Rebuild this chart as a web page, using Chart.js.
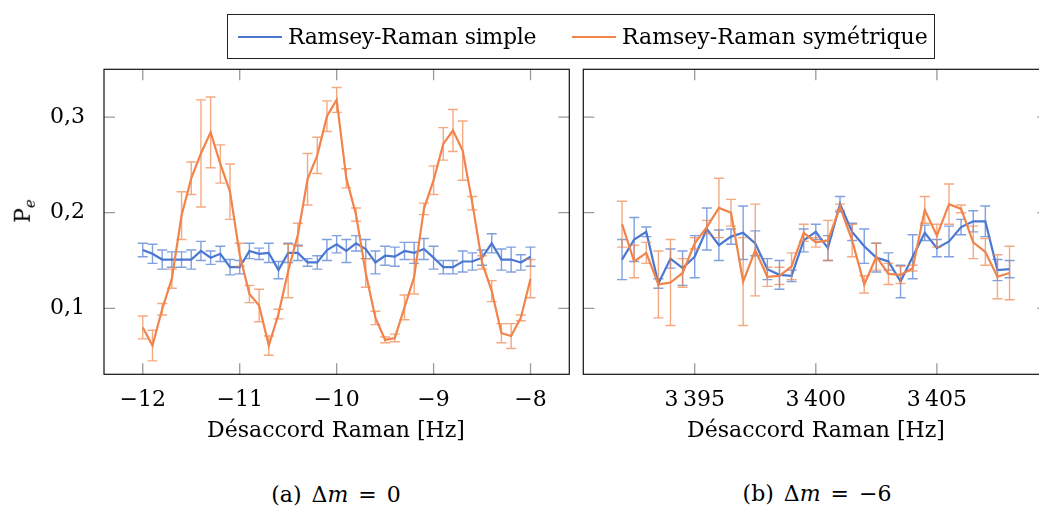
<!DOCTYPE html>
<html>
<head>
<meta charset="utf-8">
<script src="https://cdn.jsdelivr.net/npm/chart.js@4.4.1/dist/chart.umd.min.js"></script>
<style>
  html, body { margin: 0; padding: 0; background: #fff; }
  body { position: relative; width: 1039px; height: 507px; overflow: hidden; font-family: "DejaVu Serif"; color: #000; }
  canvas { position: absolute; top: 0; }
  #chartA { left: 0; }
  #chartB { left: 568px; }
  .txt { position: absolute; font-size: 22px; white-space: nowrap; line-height: 1; }
  .center { transform: translate(-50%, -50%); }
  .caption { word-spacing: 3px; }
  #legend { position: absolute; left: 227px; top: 14px; width: 706px; height: 43px; border: 1px solid #222; }
  .swatch { position: absolute; top: 21px; width: 44px; height: 2px; }
</style>
</head>
<body>
<canvas id="chartA" width="578" height="420"></canvas>
<canvas id="chartB" width="492" height="420"></canvas>

<div id="legend">
  <div class="swatch" style="left:10px; background:#4a77d2;"></div>
  <div class="txt" style="left:60px; top:11px; letter-spacing:-0.3px;">Ramsey-Raman simple</div>
  <div class="swatch" style="left:344px; background:#f0844a;"></div>
  <div class="txt" style="left:394px; top:11px;">Ramsey-Raman symétrique</div>
</div>

<div class="txt" style="left:25px; top:211px; transform: translate(-50%, -50%) rotate(-90deg);">P<sub style="font-style:italic; font-size:15px;">e</sub></div>

<div class="txt center" style="left:336px; top:430px;">Désaccord Raman [Hz]</div>
<div class="txt center" style="left:816px; top:430px;">Désaccord Raman [Hz]</div>

<div class="txt center caption" style="left:336px; top:495px;">(a) Δ<i>m</i> = 0</div>
<div class="txt center caption" style="left:817px; top:494px;">(b) Δ<i>m</i> = −6</div>

<script>
// (a) Δm = 0
const xA = [-12.0, -11.9, -11.8, -11.7, -11.6, -11.5, -11.4, -11.3, -11.2, -11.1,
            -11.0, -10.9, -10.8, -10.7, -10.6, -10.5, -10.4, -10.3, -10.2, -10.1,
            -10.0, -9.9, -9.8, -9.7, -9.6, -9.5, -9.4, -9.3, -9.2, -9.1,
            -9.0, -8.9, -8.8, -8.7, -8.6, -8.5, -8.4, -8.3, -8.2, -8.1, -8.0];
const simpleA = [0.161, 0.157, 0.151, 0.151, 0.151, 0.151, 0.160, 0.153, 0.157, 0.143,
                 0.143, 0.160, 0.157, 0.158, 0.140, 0.158, 0.158, 0.148, 0.148, 0.161,
                 0.167, 0.160, 0.168, 0.162, 0.148, 0.155, 0.154, 0.160, 0.158, 0.162,
                 0.153, 0.143, 0.143, 0.149, 0.149, 0.153, 0.168, 0.151, 0.151, 0.148, 0.154];
const simpleErrA = [0.007, 0.010, 0.010, 0.008, 0.008, 0.010, 0.010, 0.007, 0.008, 0.008,
                    0.007, 0.008, 0.006, 0.010, 0.009, 0.010, 0.008, 0.004, 0.007, 0.011,
                    0.009, 0.012, 0.008, 0.010, 0.012, 0.010, 0.010, 0.009, 0.011, 0.011,
                    0.012, 0.007, 0.007, 0.011, 0.009, 0.008, 0.010, 0.011, 0.013, 0.008, 0.010];
const symA = [0.080, 0.061, 0.099, 0.131, 0.197, 0.236, 0.262, 0.284, 0.251, 0.222,
              0.156, 0.115, 0.103, 0.061, 0.094, 0.139, 0.177, 0.235, 0.260, 0.301,
              0.318, 0.236, 0.198, 0.137, 0.090, 0.067, 0.069, 0.101, 0.133, 0.204,
              0.234, 0.272, 0.286, 0.265, 0.210, 0.148, 0.118, 0.074, 0.071, 0.090, 0.131];
const symErrA = [0.012, 0.016, 0.006, 0.010, 0.025, 0.017, 0.056, 0.037, 0.020, 0.029,
                 0.012, 0.009, 0.017, 0.010, 0.005, 0.028, 0.012, 0.027, 0.019, 0.016,
                 0.013, 0.010, 0.007, 0.015, 0.007, 0.003, 0.004, 0.013, 0.018, 0.006,
                 0.015, 0.017, 0.022, 0.031, 0.007, 0.007, 0.011, 0.010, 0.013, 0.003, 0.020];
const xTicksA = [-12, -11, -10, -9, -8];

// (b) Δm = -6
const xB = [3392.0, 3392.5, 3393.0, 3393.5, 3394.0, 3394.5, 3395.0, 3395.5, 3396.0, 3396.5,
            3397.0, 3397.5, 3398.0, 3398.5, 3399.0, 3399.5, 3400.0, 3400.5, 3401.0, 3401.5,
            3402.0, 3402.5, 3403.0, 3403.5, 3404.0, 3404.5, 3405.0, 3405.5, 3406.0, 3406.5,
            3407.0, 3407.5, 3408.0];
const simpleB = [0.151, 0.172, 0.180, 0.126, 0.152, 0.142, 0.154, 0.183, 0.166, 0.175,
                 0.179, 0.168, 0.141, 0.135, 0.134, 0.171, 0.180, 0.163, 0.209, 0.180,
                 0.165, 0.153, 0.149, 0.128, 0.154, 0.179, 0.163, 0.170, 0.185, 0.191,
                 0.191, 0.140, 0.141];
const simpleErrB = [0.021, 0.023, 0.005, 0.005, 0.010, 0.018, 0.022, 0.022, 0.016, 0.008,
                    0.028, 0.013, 0.011, 0.015, 0.006, 0.012, 0.008, 0.013, 0.008, 0.009,
                    0.018, 0.015, 0.009, 0.017, 0.023, 0.008, 0.009, 0.016, 0.008, 0.011,
                    0.016, 0.011, 0.009];
const symB = [0.188, 0.149, 0.158, 0.125, 0.127, 0.137, 0.168, 0.185, 0.205, 0.200,
              0.128, 0.161, 0.133, 0.134, 0.144, 0.179, 0.169, 0.171, 0.206, 0.171,
              0.125, 0.154, 0.136, 0.135, 0.142, 0.203, 0.176, 0.209, 0.204, 0.169,
              0.159, 0.133, 0.137];
const symErrB = [0.024, 0.017, 0.011, 0.035, 0.045, 0.015, 0.006, 0.007, 0.031, 0.014,
                 0.046, 0.048, 0.010, 0.009, 0.014, 0.009, 0.005, 0.021, 0.003, 0.017,
                 0.009, 0.014, 0.011, 0.009, 0.003, 0.014, 0.012, 0.021, 0.004, 0.017,
                 0.014, 0.023, 0.028];
const xTicksB = [3395, 3400, 3405];

const yTicks = [0.1, 0.2, 0.3];

const BLUE = '#4a77d2';
const ORANGE = '#f0844a';
const BLUE_ERR = 'rgba(74, 119, 210, 0.7)';
const ORANGE_ERR = 'rgba(240, 132, 74, 0.7)';

Chart.defaults.font.family = '"DejaVu Serif"';
Chart.defaults.font.size = 22;
Chart.defaults.color = '#000';

// error bars under each line, then the frame with inward ticks
const pgfFrame = {
  id: 'pgfFrame',
  beforeDatasetDraw(chart, args) {
    const ds = chart.data.datasets[args.index];
    if (!ds.errors) return;
    const { ctx, scales: { x, y } } = chart;
    ctx.save();
    ctx.strokeStyle = ds.errColor;
    ctx.lineWidth = 1.4;
    ds.data.forEach((p, i) => {
      const px = x.getPixelForValue(p.x);
      const top = y.getPixelForValue(p.y + ds.errors[i]);
      const bot = y.getPixelForValue(p.y - ds.errors[i]);
      ctx.beginPath();
      ctx.moveTo(px, top); ctx.lineTo(px, bot);
      ctx.moveTo(px - 5, top); ctx.lineTo(px + 5, top);
      ctx.moveTo(px - 5, bot); ctx.lineTo(px + 5, bot);
      ctx.stroke();
    });
    ctx.restore();
  },
  afterDatasetsDraw(chart) {
    const { ctx, chartArea: a, scales: { x, y } } = chart;
    const len = 11;
    ctx.save();
    ctx.strokeStyle = '#9a9a9a';
    ctx.lineWidth = 1.3;
    ctx.beginPath();
    x.ticks.forEach(t => {
      const px = x.getPixelForValue(t.value);
      ctx.moveTo(px, a.bottom); ctx.lineTo(px, a.bottom - len);
      ctx.moveTo(px, a.top); ctx.lineTo(px, a.top + len);
    });
    y.ticks.forEach(t => {
      const py = y.getPixelForValue(t.value);
      ctx.moveTo(a.left, py); ctx.lineTo(a.left + len, py);
      ctx.moveTo(a.right, py); ctx.lineTo(a.right - len, py);
    });
    ctx.stroke();
    ctx.strokeStyle = '#111';
    ctx.lineWidth = 1.2;
    ctx.strokeRect(a.left, a.top, a.right - a.left, a.bottom - a.top);
    ctx.restore();
  }
};

function makeChart(id, xs, s1, e1, s2, e2, xTicks, xMin, xMax, opts) {
  const toPts = vals => xs.map((x, i) => ({ x: x, y: vals[i] }));
  return new Chart(document.getElementById(id), {
    type: 'line',
    data: {
      datasets: [
        {
          label: 'Ramsey-Raman simple',
          data: toPts(s1),
          errors: e1,
          errColor: BLUE_ERR,
          borderColor: BLUE,
          borderWidth: 2.2,
          pointRadius: 0,
          tension: 0,
          order: 2
        },
        {
          label: 'Ramsey-Raman symétrique',
          data: toPts(s2),
          errors: e2,
          errColor: ORANGE_ERR,
          borderColor: ORANGE,
          borderWidth: 2.2,
          pointRadius: 0,
          tension: 0,
          order: 1
        }
      ]
    },
    options: {
      responsive: false,
      animation: false,
      layout: { padding: opts.padding },
      plugins: { legend: { display: false }, tooltip: { enabled: false } },
      scales: {
        x: {
          type: 'linear',
          min: xMin,
          max: xMax,
          afterBuildTicks: axis => { axis.ticks = xTicks.map(v => ({ value: v })); },
          afterFit: axis => { axis.height = opts.xHeight; },
          grid: { display: false },
          border: { display: false },
          ticks: {
            padding: 5,
            maxRotation: 0,
            autoSkip: false,
            callback: v => opts.xFormat(v)
          }
        },
        y: {
          type: 'linear',
          min: 0.031,
          max: 0.35,
          afterBuildTicks: axis => { axis.ticks = yTicks.map(v => ({ value: v })); },
          afterFit: axis => { axis.width = opts.yWidth; },
          grid: { display: false },
          border: { display: false },
          ticks: {
            display: opts.yLabels,
            padding: 11,
            callback: v => v.toFixed(1).replace('.', ',')
          }
        }
      }
    },
    plugins: [pgfFrame]
  });
}

makeChart('chartA', xA, simpleA, simpleErrA, symA, symErrA, xTicksA, -12.4, -7.6, {
  padding: { left: 0, top: 69.3, right: 8.7, bottom: 0 },
  yWidth: 104,
  xHeight: 45.7,
  yLabels: true,
  xFormat: v => (v < 0 ? '\u2212' + Math.abs(v) : String(v))
});

makeChart('chartB', xB, simpleB, simpleErrB, symB, symErrB, xTicksB, 3390.4, 3409.6, {
  padding: { left: 0, top: 69.3, right: 11.7, bottom: 0 },
  yWidth: 15.3,
  xHeight: 45.7,
  yLabels: false,
  xFormat: v => String(v).replace(/^(\d)(\d{3})$/, '$1\u2009$2')
});
</script>
</body>
</html>
